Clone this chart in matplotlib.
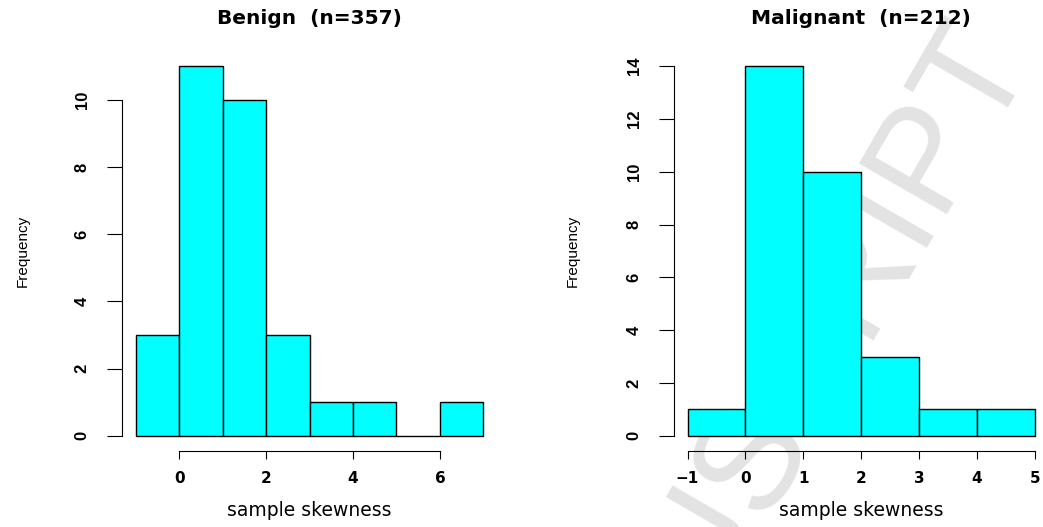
import numpy as np
import matplotlib.pyplot as plt

# histogram bins and counts (one value per feature, 30 per class)
benign_edges = [-1, 0, 1, 2, 3, 4, 5, 6, 7]
benign_counts = [3, 11, 10, 3, 1, 1, 0, 1]
benign_xticks = [0, 2, 4, 6]
benign_yticks = [0, 2, 4, 6, 8, 10]

malig_edges = [-1, 0, 1, 2, 3, 4, 5]
malig_counts = [1, 14, 10, 3, 1, 1]
malig_xticks = [-1, 0, 1, 2, 3, 4, 5]
malig_yticks = [0, 2, 4, 6, 8, 10, 12, 14]

titles = ['Benign  (n=357)', 'Malignant  (n=212)']
xlab = 'sample skewness'
ylab = 'Frequency'

W, H = 1043, 527
fig = plt.figure(figsize=(W / 100, H / 100), dpi=100)

# faint watermark behind the plots
fig.text(1029 / W, 1 - 52 / H, 'MANUSCRIPT', rotation=60, rotation_mode='anchor',
         ha='right', va='baseline', fontsize=105, color='#e3e3e3',
         family='Liberation Sans', zorder=-1)


def r_hist(rect, edges, counts, xticks, yticks, title):
    ax = fig.add_axes(rect)
    ax.patch.set_visible(False)
    edges = np.asarray(edges, float)
    ax.bar(edges[:-1], counts, width=np.diff(edges), align='edge',
           color='cyan', edgecolor='black', linewidth=1)

    # R style: 4% padding, axis lines only over the tick range
    dx = 0.04 * (edges[-1] - edges[0])
    dy = 0.04 * max(counts)
    ax.set_xlim(edges[0] - dx, edges[-1] + dx)
    ax.set_ylim(-dy, max(counts) + dy)
    for s in ['top', 'right']:
        ax.spines[s].set_visible(False)
    ax.spines['bottom'].set_bounds(xticks[0], xticks[-1])
    ax.spines['left'].set_bounds(yticks[0], yticks[-1])
    for s in ['bottom', 'left']:
        ax.spines[s].set_linewidth(0.8)

    ax.set_xticks(xticks)
    ax.set_xticklabels([str(t) if t >= 0 else '\u2212' + str(-t) for t in xticks],
                       fontsize=11, fontweight='bold', family='DejaVu Sans')
    ax.set_yticks(yticks)
    ax.set_yticklabels([str(t) for t in yticks], fontsize=12, fontweight='bold',
                       family='Liberation Sans', rotation=90, va='center')
    ax.tick_params(axis='x', length=5.5, width=0.8, pad=9)
    ax.tick_params(axis='y', length=11, width=0.8, pad=12)

    ax.set_title(title, fontsize=14.5, fontweight='bold', family='DejaVu Sans',
                 y=1.0827, va='center', pad=0)
    ax.set_xlabel(xlab, fontsize=13.5, family='DejaVu Sans')
    ax.xaxis.set_label_coords(0.5, -0.1505)
    ax.xaxis.label.set_va('center')
    ax.set_ylabel(ylab, fontsize=11, family='Liberation Sans')
    ax.yaxis.label.set_va('center')
    return ax


bottom = (H - 450.6) / H
height = 399.3 / H
ax1 = r_hist([121.7 / W, bottom, 375.6 / W, height],
             benign_edges, benign_counts, benign_xticks, benign_yticks, titles[0])
ax1.yaxis.set_label_coords(-0.2636, 0.5)
ax2 = r_hist([673.6 / W, bottom, 375.3 / W, height],
             malig_edges, malig_counts, malig_xticks, malig_yticks, titles[1])
ax2.yaxis.set_label_coords(-0.268, 0.5)

fig.savefig('out.png', dpi=100)
